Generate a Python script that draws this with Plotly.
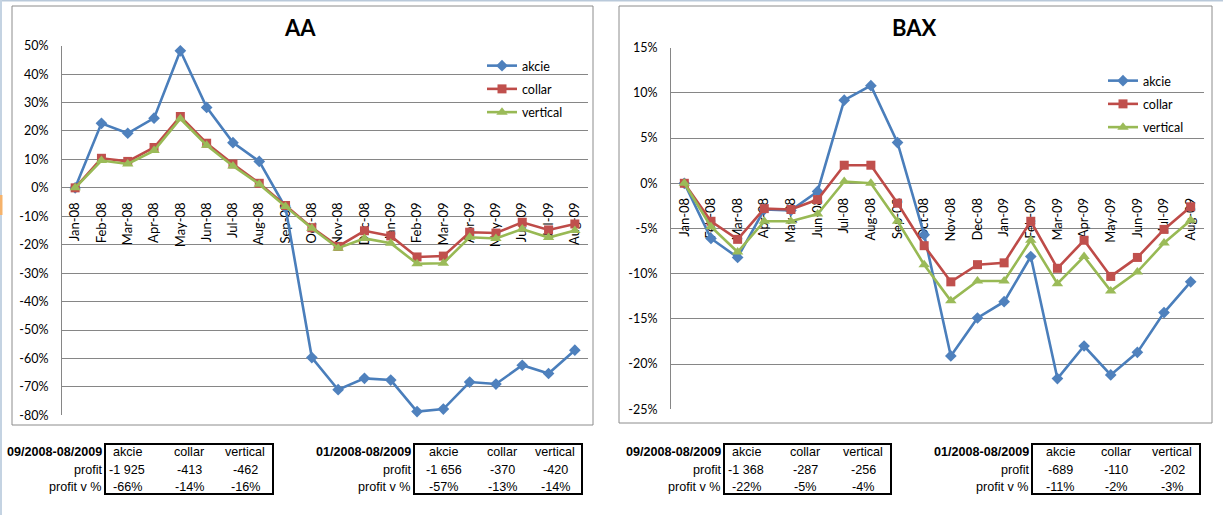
import plotly.graph_objects as go

# ---------------- data ----------------
months = ["Jan-08", "Feb-08", "Mar-08", "Apr-08", "May-08", "Jun-08", "Jul-08", "Aug-08",
          "Sep-08", "Oct-08", "Nov-08", "Dec-08", "Jan-09", "Feb-09", "Mar-09", "Apr-09",
          "May-09", "Jun-09", "Jul-09", "Aug-09"]

# AA (values in %)
aa_akcie = [0, 22.7, 19.2, 24.5, 48.2, 28.3, 15.9, 9.3, -7.0, -59.7, -71.0, -67.0, -67.6,
            -78.7, -77.8, -68.3, -69.0, -62.4, -65.3, -57.1]
aa_collar = [0, 10.4, 9.3, 14.2, 25.1, 15.7, 8.4, 1.6, -6.2, -14.0, -20.6, -15.1, -16.9,
             -24.3, -24.0, -15.6, -15.9, -12.1, -14.8, -12.7]
aa_vertical = [0, 9.6, 8.4, 13.1, 24.3, 15.0, 7.7, 1.3, -6.6, -14.2, -21.2, -17.8, -19.5,
               -26.7, -26.5, -17.4, -17.8, -14.5, -17.5, -15.0]

# BAX (values in %)
bax_akcie = [0, -6.1, -8.2, -2.9, -3.0, -0.9, 9.2, 10.8, 4.5, -5.7, -19.1, -14.9, -13.1,
             -8.1, -21.6, -18.0, -21.2, -18.7, -14.3, -10.9]
bax_collar = [0, -4.2, -6.2, -2.8, -2.9, -1.8, 2.0, 2.0, -2.2, -6.9, -10.9, -9.0, -8.8,
              -4.2, -9.4, -6.3, -10.3, -8.2, -5.1, -2.6]
bax_vertical = [0, -4.8, -7.6, -4.2, -4.2, -3.4, 0.2, 0.0, -4.2, -9.0, -13.0, -10.8, -10.8,
                -6.3, -11.1, -8.1, -11.9, -9.8, -6.6, -4.1]

series_names = ["akcie", "collar", "vertical"]

aa_yticks = [50, 40, 30, 20, 10, 0, -10, -20, -30, -40, -50, -60, -70, -80]
bax_yticks = [15, 10, 5, 0, -5, -10, -15, -20, -25]

# summary tables
tbl_cols = ["akcie", "collar", "vertical"]
tbl_rows = ["profit", "profit v %"]
aa_t1_title = "09/2008-08/2009"
aa_t1_profit = [-1925, -413, -462]
aa_t1_pct = [-66, -14, -16]
aa_t2_title = "01/2008-08/2009"
aa_t2_profit = [-1656, -370, -420]
aa_t2_pct = [-57, -13, -14]
bax_t1_title = "09/2008-08/2009"
bax_t1_profit = [-1368, -287, -256]
bax_t1_pct = [-22, -5, -4]
bax_t2_title = "01/2008-08/2009"
bax_t2_profit = [-689, -110, -202]
bax_t2_pct = [-11, -2, -3]

# ---------------- layout helpers ----------------
W, H = 1223, 515
def px(x):
    return x / W
def py(y):
    return 1 - y / H

FONT = "Lato, Calibri, sans-serif"
TFONT = "Liberation Sans, Arial, sans-serif"
GRID = "#868686"

line_cols = ["#4A7EBB", "#BE4B48", "#98B954"]
mark_cols = ["#4F81BD", "#C0504D", "#9BBB59"]
symbols = ["diamond", "square", "triangle-up"]
msizes = [9, 9, 10]

fig = go.Figure()

def add_series(vals_list, xa, ya, leg):
    for i, vals in enumerate(vals_list):
        fig.add_trace(go.Scatter(
            x=months, y=vals, xaxis=xa, yaxis=ya, name=series_names[i],
            mode="lines+markers", legend=leg, legendgroup=leg + str(i),
            line=dict(color=line_cols[i], width=2.6),
            marker=dict(symbol=symbols[i], size=msizes[i], color=mark_cols[i],
                        line=dict(width=0)),
            cliponaxis=False,
        ))

add_series([aa_akcie, aa_collar, aa_vertical], "x", "y", "legend")
add_series([bax_akcie, bax_collar, bax_vertical], "x2", "y2", "legend2")

# plot areas (pixels)
L_x0, L_x1, L_y0, L_y1 = 62, 588, 45.7, 415.3
R_x0, R_x1, R_y0, R_y1 = 671, 1204, 47.7, 409.3

aa_range = [min(aa_yticks), max(aa_yticks)]
bax_range = [min(bax_yticks), max(bax_yticks)]

def zero_pos(rng, y0, y1):
    d0, d1 = py(y1), py(y0)
    return d0 + (0 - rng[0]) / (rng[1] - rng[0]) * (d1 - d0)

def yaxis_cfg(ticks, rng, y0, y1, anchor):
    return dict(
        domain=[py(y1), py(y0)], range=rng, tickvals=ticks,
        ticktext=[f"{t}%" for t in ticks], showgrid=True, gridcolor=GRID, gridwidth=1,
        zeroline=False, showline=True, linecolor=GRID, linewidth=1, ticks="",
        ticklabelstandoff=10, tickfont=dict(family=FONT, size=12.5, color="black"),
        anchor=anchor, fixedrange=True, automargin=False,
    )

def xaxis_cfg(x0, x1, pos):
    return dict(
        domain=[px(x0), px(x1)], type="category", range=[-0.5, len(months) - 0.5],
        anchor="free", position=pos, showgrid=False, zeroline=False, showline=False,
        ticks="", tickangle=-90, ticklabelstandoff=11, layer="below traces",
        tickfont=dict(family=FONT, size=13, color="black"), fixedrange=True,
        automargin=False,
    )

shapes = []
annotations = []

# chart frames
for (a, b, c, d) in [(12, 593, 6, 425), (619, 1212, 6, 423)]:
    shapes.append(dict(type="rect", xref="paper", yref="paper", x0=px(a), x1=px(b),
                       y0=py(d), y1=py(c), line=dict(color="#8C8C8C", width=1)))
# spreadsheet edges
shapes.append(dict(type="line", xref="paper", yref="paper", x0=0, x1=1, y0=py(0.5), y1=py(0.5),
                   line=dict(color="#B9C9DA", width=2)))
shapes.append(dict(type="line", xref="paper", yref="paper", x0=px(1), x1=px(1), y0=0, y1=1,
                   line=dict(color="#C4D3E2", width=2)))
shapes.append(dict(type="rect", xref="paper", yref="paper", x0=0, x1=px(2.5), y0=py(215), y1=py(195),
                   line=dict(width=0), fillcolor="#F5B26B"))

def note(text, x, y, font, xanchor="center"):
    annotations.append(dict(text=text, x=px(x), y=py(y), xref="paper", yref="paper",
                            xanchor=xanchor, yanchor="middle", showarrow=False, font=font))

# titles
note("<b>AA</b>", 300, 27, dict(family=FONT, size=22, color="black"))
note("<b>BAX</b>", 915, 27, dict(family=FONT, size=22, color="black"))

# tables
tfont = dict(family=TFONT, size=12.6, color="black")
def add_table(title, profit, pct, bx0, bx1, colx):
    by0, by1 = 444, 494
    shapes.append(dict(type="rect", xref="paper", yref="paper", x0=px(bx0), x1=px(bx1),
                       y0=py(by1), y1=py(by0), line=dict(color="black", width=2)))
    rows_y = [452, 470, 487]
    note(f"<b>{title}</b>", bx0 - 1, rows_y[0], tfont, "right")
    for r, lab in enumerate(tbl_rows):
        note(lab, bx0 - 1, rows_y[r + 1], tfont, "right")
    for c, name in enumerate(tbl_cols):
        vals = [name, f"{profit[c]:,}".replace(",", " "), f"{pct[c]}%"]
        for r, v in enumerate(vals):
            note(v, colx[c], rows_y[r], tfont, "center")

add_table(aa_t1_title, aa_t1_profit, aa_t1_pct, 105, 273, [127, 189, 245])
add_table(aa_t2_title, aa_t2_profit, aa_t2_pct, 414, 582, [444, 502, 555])
add_table(bax_t1_title, bax_t1_profit, bax_t1_pct, 724, 891, [746, 805, 863])
add_table(bax_t2_title, bax_t2_profit, bax_t2_pct, 1032, 1200, [1060, 1116, 1172])

legend_common = dict(xanchor="left", yanchor="top", bgcolor="rgba(0,0,0,0)",
                     font=dict(family=FONT, size=12.5, color="black"), itemwidth=30,
                     tracegroupgap=4, itemclick=False, itemdoubleclick=False)

fig.update_layout(
    width=W, height=H, margin=dict(l=0, r=0, t=0, b=0, pad=0, autoexpand=False),
    paper_bgcolor="white", plot_bgcolor="white",
    xaxis=xaxis_cfg(L_x0, L_x1, zero_pos(aa_range, L_y0, L_y1)),
    yaxis=yaxis_cfg(aa_yticks, aa_range, L_y0, L_y1, "x"),
    xaxis2=xaxis_cfg(R_x0, R_x1, zero_pos(bax_range, R_y0, R_y1)),
    yaxis2=yaxis_cfg(bax_yticks, bax_range, R_y0, R_y1, "x2"),
    legend=dict(x=px(482), y=py(51), **legend_common),
    legend2=dict(x=px(1103), y=py(66), **legend_common),
    shapes=shapes, annotations=annotations, showlegend=True,
)

fig.write_html("out.html", config={"displayModeBar": False},
               post_script="document.body.style.margin='0';")
